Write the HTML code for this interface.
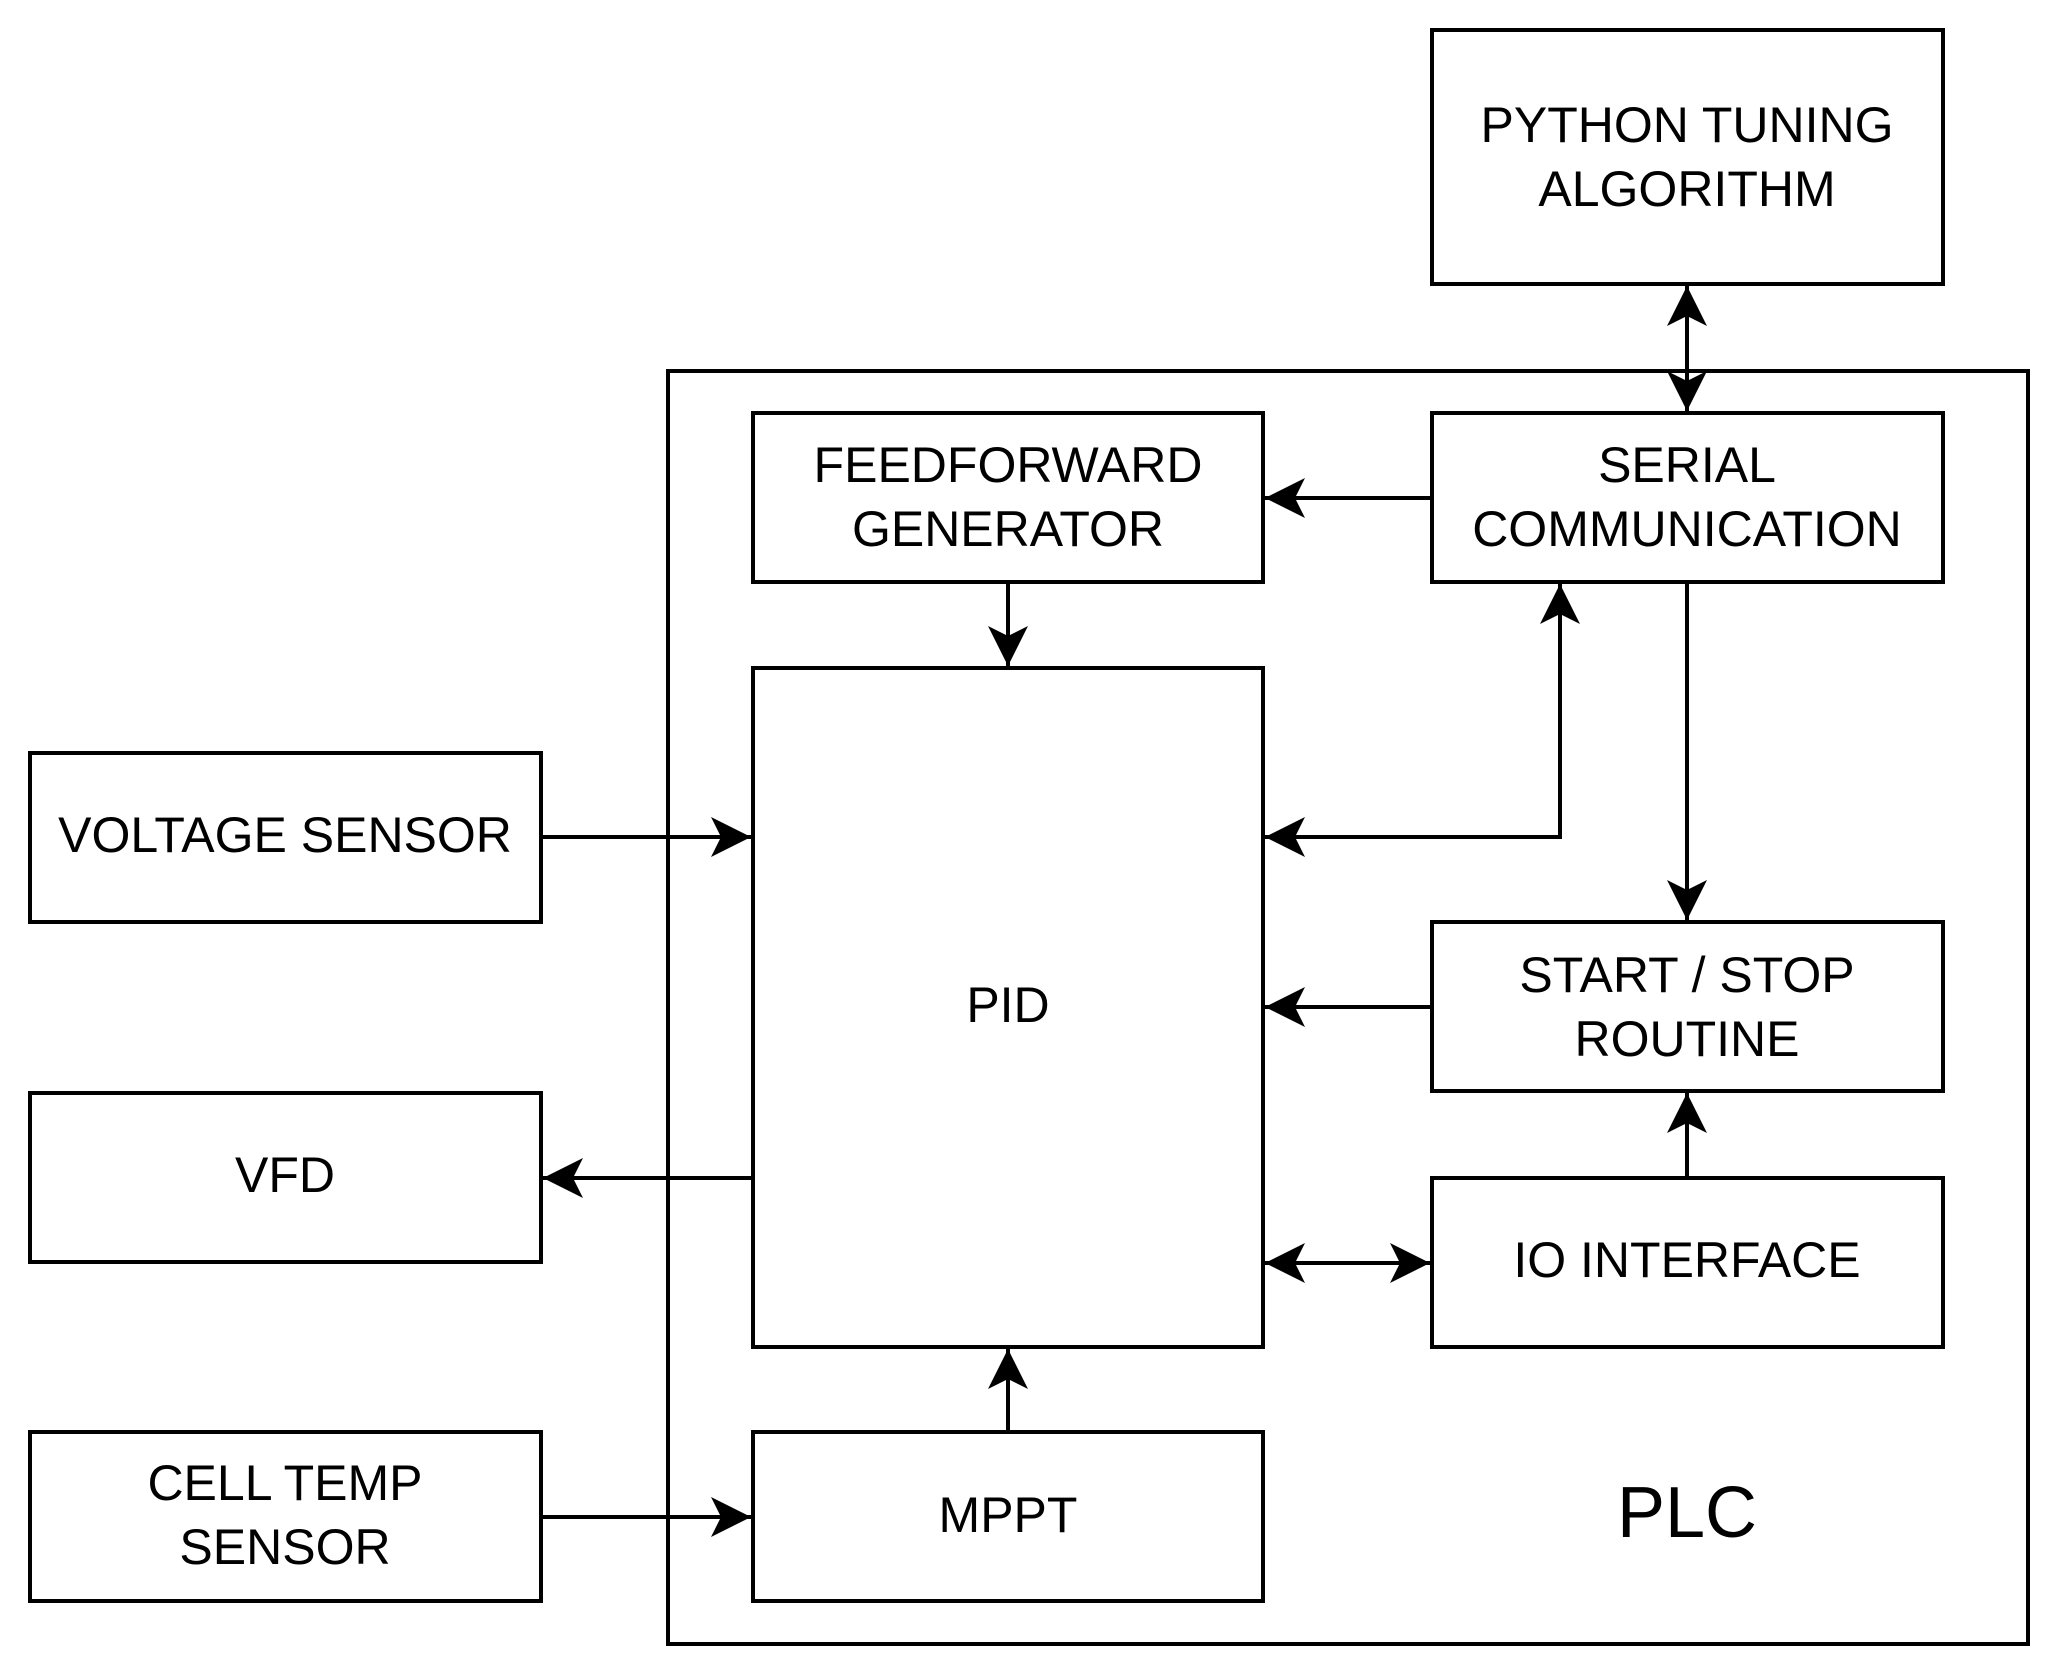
<!DOCTYPE html>
<html><head><meta charset="utf-8"><style>
html,body{margin:0;padding:0;background:#fff}
svg{display:block}
text{font-family:"Liberation Sans",sans-serif;fill:#000;text-anchor:middle}
</style></head><body>
<svg width="2054" height="1675" viewBox="0 0 2054 1675" xmlns="http://www.w3.org/2000/svg">
<defs>
<marker id="a" markerUnits="userSpaceOnUse" markerWidth="44" markerHeight="44" refX="40" refY="20" orient="auto-start-reverse">
<path d="M0,0 L40,20 L0,40 L10,20 Z" fill="#000"/>
</marker>
</defs>
<g fill="none" stroke="#000" stroke-width="4">
<rect x="668" y="371" width="1360" height="1273"/>
<rect x="1432" y="30" width="511" height="254"/>
<rect x="753" y="413" width="510" height="169"/>
<rect x="1432" y="413" width="511" height="169"/>
<rect x="753" y="668" width="510" height="679"/>
<rect x="30" y="753" width="511" height="169"/>
<rect x="30" y="1093" width="511" height="169"/>
<rect x="30" y="1432" width="511" height="169"/>
<rect x="753" y="1432" width="510" height="169"/>
<rect x="1432" y="922" width="511" height="169"/>
<rect x="1432" y="1178" width="511" height="169"/>
<line x1="1687" y1="286" x2="1687" y2="411" marker-start="url(#a)" marker-end="url(#a)"/>
<line x1="1432" y1="498" x2="1265" y2="498" marker-end="url(#a)"/>
<line x1="1008" y1="582" x2="1008" y2="666" marker-end="url(#a)"/>
<polyline points="1265,837 1560,837 1560,584" marker-start="url(#a)" marker-end="url(#a)"/>
<line x1="1687" y1="582" x2="1687" y2="920" marker-end="url(#a)"/>
<line x1="1432" y1="1007" x2="1265" y2="1007" marker-end="url(#a)"/>
<line x1="1687" y1="1178" x2="1687" y2="1093" marker-end="url(#a)"/>
<line x1="1265" y1="1263" x2="1430" y2="1263" marker-start="url(#a)" marker-end="url(#a)"/>
<line x1="541" y1="837" x2="751" y2="837" marker-end="url(#a)"/>
<line x1="753" y1="1178" x2="543" y2="1178" marker-end="url(#a)"/>
<line x1="541" y1="1517" x2="751" y2="1517" marker-end="url(#a)"/>
<line x1="1008" y1="1432" x2="1008" y2="1349" marker-end="url(#a)"/>
</g>
<g font-size="50">
<text x="1687" y="142">PYTHON TUNING</text>
<text x="1687" y="206">ALGORITHM</text>
<text x="1008" y="482">FEEDFORWARD</text>
<text x="1008" y="546">GENERATOR</text>
<text x="1687" y="482">SERIAL</text>
<text x="1687" y="546">COMMUNICATION</text>
<text x="1008" y="1022">PID</text>
<text x="285" y="852">VOLTAGE SENSOR</text>
<text x="285" y="1192">VFD</text>
<text x="285" y="1500">CELL TEMP</text>
<text x="285" y="1564">SENSOR</text>
<text x="1008" y="1532">MPPT</text>
<text x="1687" y="992">START / STOP</text>
<text x="1687" y="1056">ROUTINE</text>
<text x="1687" y="1277">IO INTERFACE</text>
<text x="1687" y="1537" font-size="72">PLC</text>
</g>
</svg>
</body></html>
